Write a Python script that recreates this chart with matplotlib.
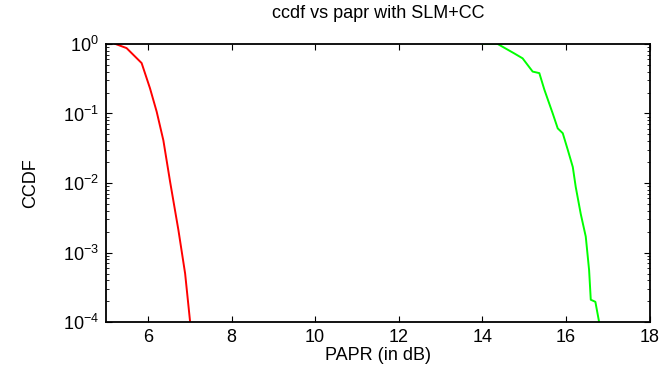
import numpy as np
import matplotlib
matplotlib.use("Agg")
from matplotlib import pyplot as plt

# PAPR (dB) / CCDF
papr_orig = [5.22, 5.49, 5.85, 6.05, 6.21, 6.37, 6.53, 6.73, 6.89, 7.01]
ccdf_orig = [1.0, 0.87, 0.53, 0.23, 0.106, 0.041, 0.0105, 0.0021, 5e-4, 1.0e-4]

papr_slm = [14.0, 14.36, 14.76, 14.96, 15.2, 15.36, 15.48, 15.68, 15.8, 15.92,
            16.04, 16.16, 16.23, 16.35, 16.47, 16.55, 16.59, 16.7, 16.79]
ccdf_slm = [1.0, 1.0, 0.73, 0.62, 0.40, 0.38, 0.22, 0.10, 0.061, 0.052,
            0.030, 0.017, 0.0088, 0.0036, 0.0017, 5.6e-4, 2.1e-4, 1.96e-4, 1.0e-4]

plt.rcParams['font.family'] = ['Liberation Sans', 'DejaVu Sans']
plt.rcParams['mathtext.fontset'] = 'custom'
plt.rcParams['mathtext.rm'] = 'Liberation Sans'
plt.rcParams['mathtext.it'] = 'Liberation Sans'

fig = plt.figure(figsize=(6.63, 3.72), dpi=100)
ax = fig.add_axes([0.160, 0.134, 0.820, 0.748])

ax.semilogy(papr_orig, ccdf_orig, color='red', lw=1.4)
ax.semilogy(papr_slm, ccdf_slm, color='#00ff00', lw=1.4)

ax.set_xlim(5, 18)
ax.set_ylim(1e-4, 1)
ax.set_xticks([6, 8, 10, 12, 14, 16, 18])
ax.set_yticks([1e-4, 1e-3, 1e-2, 1e-1, 1])
ax.tick_params(which='both', direction='in', top=True, right=True,
               labelsize=13, colors='black')
ax.tick_params(which='major', length=4, pad=5)
ax.tick_params(which='minor', length=2)
for s in ax.spines.values():
    s.set_linewidth(1.3)

ax.set_title('ccdf vs papr with SLM+CC', fontsize=13, pad=19)
ax.set_xlabel('PAPR (in dB)', fontsize=13, labelpad=1)
ax.set_ylabel('CCDF', fontsize=13, labelpad=17)

fig.savefig('out.png', dpi=100)
